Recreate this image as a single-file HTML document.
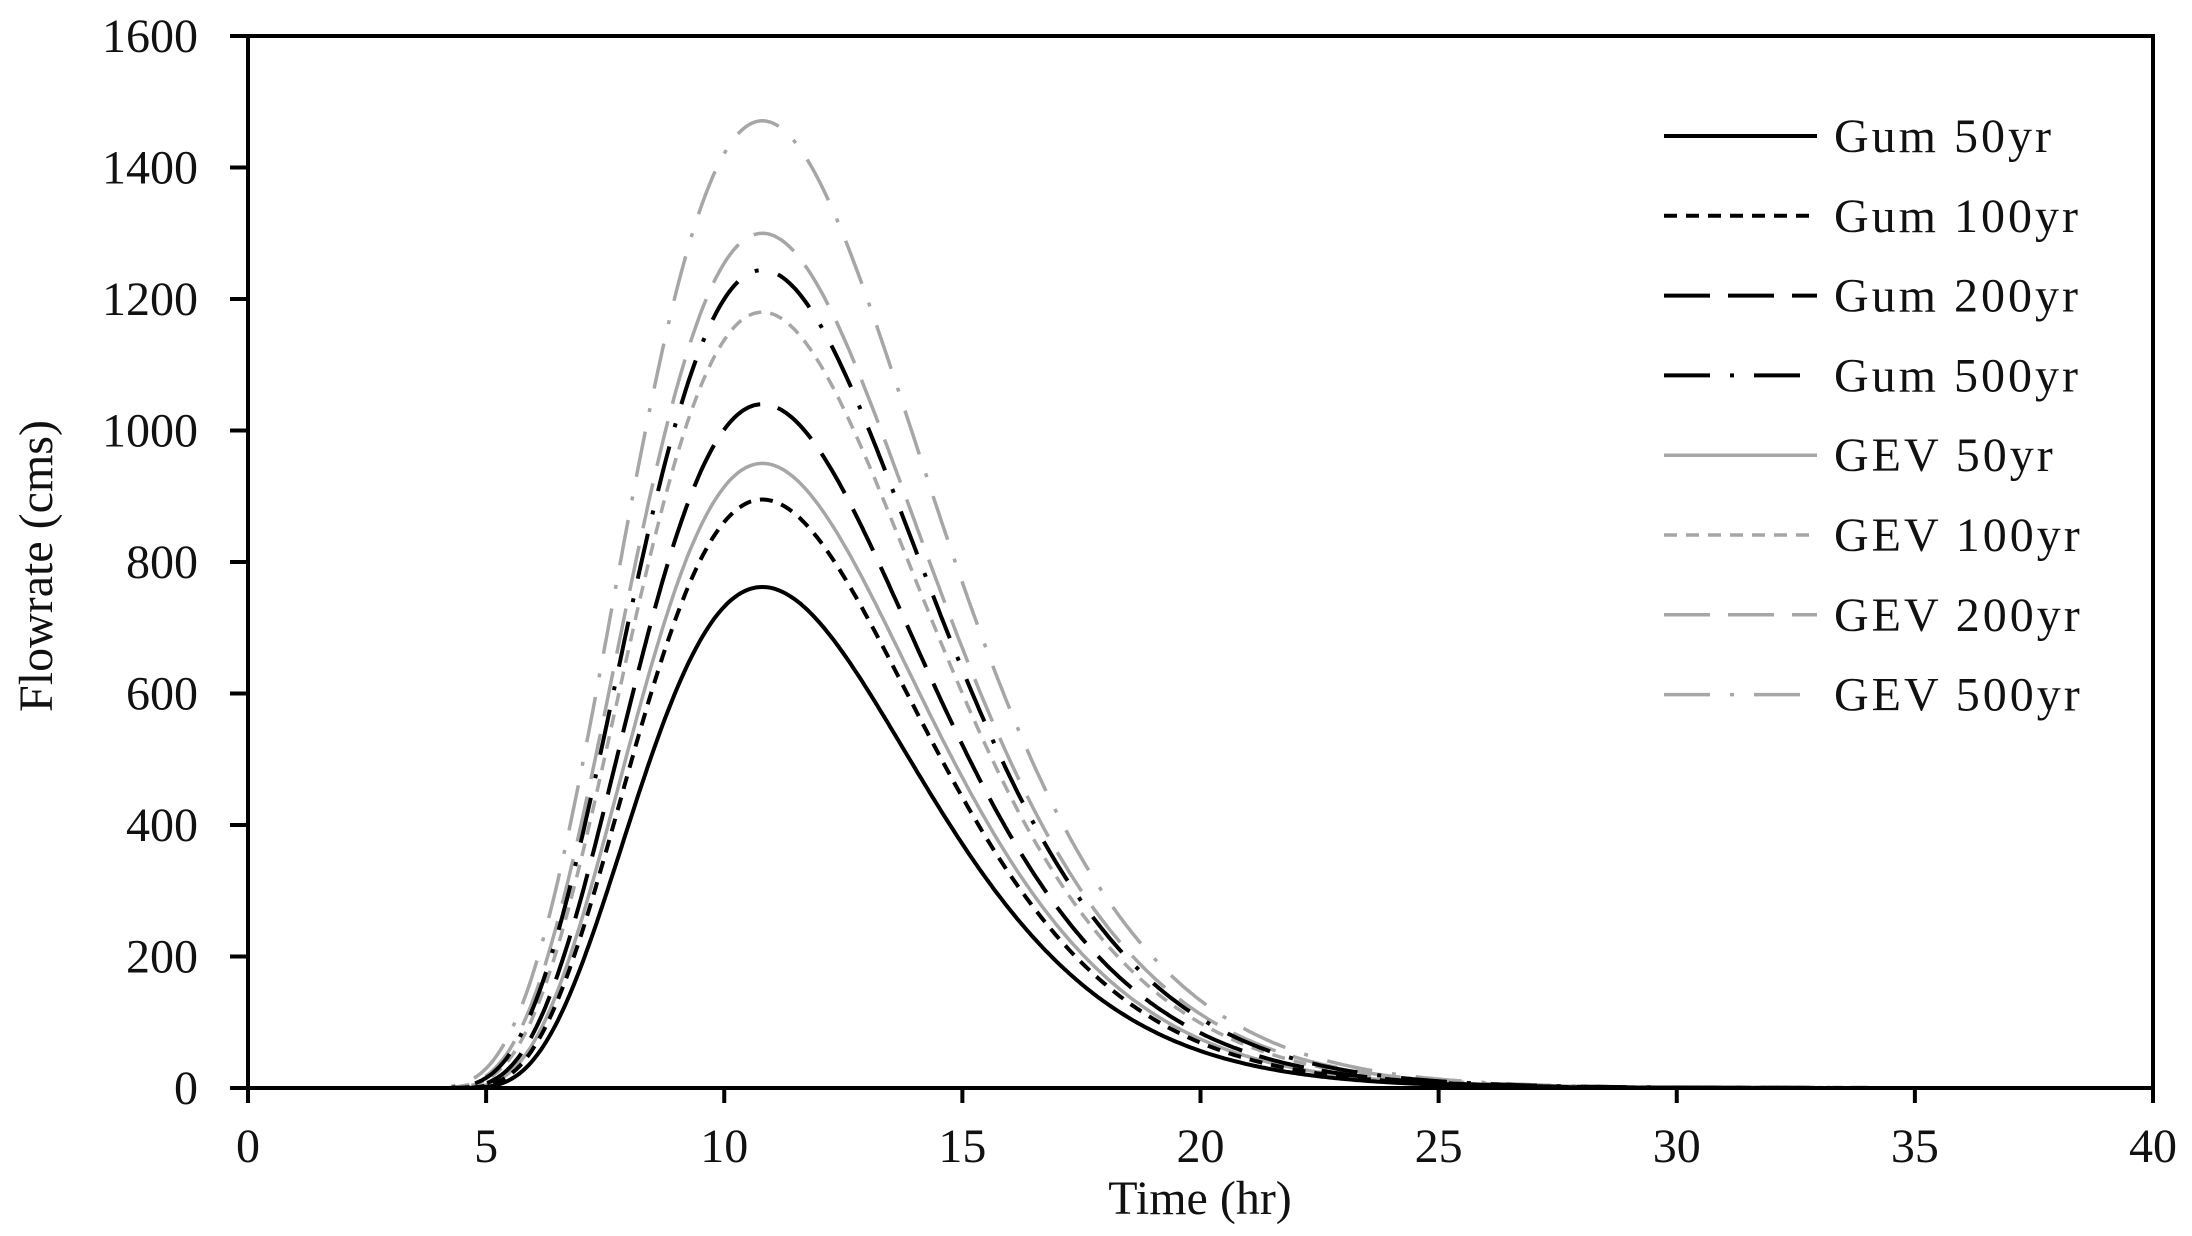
<!DOCTYPE html>
<html><head><meta charset="utf-8"><style>
html,body{margin:0;padding:0;background:#fff;}
svg{display:block;}
text{font-family:"Liberation Serif",serif;fill:#111;}
</style></head><body>
<svg id="s" width="2192" height="1236" viewBox="0 0 2192 1236" xmlns="http://www.w3.org/2000/svg">
<g id="curves"></g>
<g stroke="#000" stroke-width="4" fill="none">
<line x1="230" y1="1088" x2="2155" y2="1088"/>
<line x1="248" y1="36" x2="248" y2="1102"/>
<line x1="230" y1="36" x2="2155" y2="36"/>
<line x1="2153" y1="36" x2="2153" y2="1102"/>
</g>
<g id="ticks" stroke="#000" stroke-width="4"></g>
<g id="labels" font-size="48"></g>
<text x="1200" y="1214" font-size="48" text-anchor="middle">Time (hr)</text>
<text transform="translate(52,566) rotate(-90)" font-size="48" text-anchor="middle">Flowrate (cms)</text>
<g id="legend" font-size="48"></g>
</svg>
<script>
var NS="http://www.w3.org/2000/svg";
function el(p,n,a,t){var e=document.createElementNS(NS,n);for(var k in a)e.setAttribute(k,a[k]);if(t)e.textContent=t;p.appendChild(e);return e;}
var X=function(t){return 248+t*(2153-248)/40;};
var Y=function(v){return 1088-v*(1088-36)/1600;};
var tk=document.getElementById('ticks'),lb=document.getElementById('labels');
for(var v=0;v<=1600;v+=200){var y=Y(v);el(tk,'line',{x1:230,y1:y,x2:248,y2:y});el(lb,'text',{x:198,y:y+16,'text-anchor':'end'},String(v));}
for(var t=0;t<=40;t+=5){var x=X(t);el(tk,'line',{x1:x,y1:1088,x2:x,y2:1103});el(lb,'text',{x:x,y:1162,'text-anchor':'middle'},String(t));}
var series=[
{n:'Gum 50yr',p:762,c:'#000',w:4,d:''},
{n:'Gum 100yr',p:895,c:'#000',w:4,d:'13 9'},
{n:'Gum 200yr',p:1040,c:'#000',w:4,d:'46 18'},
{n:'Gum 500yr',p:1244,c:'#000',w:4,d:'46 20 4 20'},
{n:'GEV 50yr',p:950,c:'#a6a6a6',w:3.5,d:''},
{n:'GEV 100yr',p:1180,c:'#a6a6a6',w:3.5,d:'13 9'},
{n:'GEV 200yr',p:1300,c:'#a6a6a6',w:3.5,d:'46 18'},
{n:'GEV 500yr',p:1471,c:'#a6a6a6',w:3.5,d:'46 20 4 20'}];
var cg=document.getElementById('curves'),lg=document.getElementById('legend');
function mk(p){var t0=4.2-(p-762)/710*1.0;var tp=10.8-t0;var a=5.0*tp/6.6;
 return function(t){var u=t-t0;if(u<=0)return 0;var r=u/tp;return Math.exp(a*(Math.log(r)+1-r));};}
for(var i=series.length-1;i>=0;i--){var s=series[i];var f=mk(s.p);var d='';
 for(var t=1;t<=40.001;t+=0.05){var yy=Y(s.p*f(t));d+=(t==1?'M':'L')+X(t).toFixed(1)+' '+yy.toFixed(1);}
 var at={d:d,fill:'none',stroke:s.c,'stroke-width':s.w};if(s.d)at['stroke-dasharray']=s.d;el(cg,'path',at);}
for(var i=0;i<series.length;i++){var s=series[i];var y=136+i*79.8;
 var at={x1:1664,y1:y,x2:1817,y2:y,stroke:s.c,'stroke-width':s.w};if(s.d)at['stroke-dasharray']=s.d;el(lg,'line',at);
 el(lg,'text',{x:1834,y:y+16,'letter-spacing':'3'},s.n);}
</script>
</body></html>
